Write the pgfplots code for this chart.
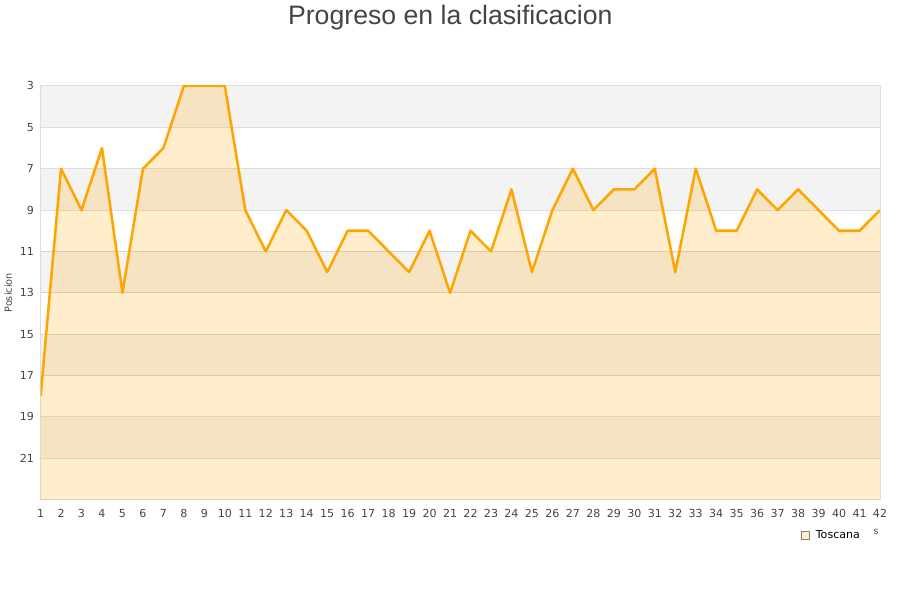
\documentclass[border=0pt]{standalone}
\usepackage{pgfplots}
\pgfplotsset{compat=1.18}
\usepackage{fontspec}
\setmainfont{DejaVu Sans}
\newfontfamily\titlefont{Liberation Sans}
\definecolor{lineorange}{RGB}{255,165,0}
\definecolor{gridgray}{RGB}{221,221,221}
\definecolor{ticktext}{RGB}{68,68,68}
\definecolor{legfill}{RGB}{255,237,204}
\begin{document}
\begin{tikzpicture}
\path (0pt,0pt) rectangle (675pt,450pt);
\node[font=\titlefont\fontsize{20}{24}\selectfont, text=ticktext] at (337.5pt,437pt) {Progreso en la clasificacion};
\node[font=\fontsize{7}{8}\selectfont, text=ticktext] at (657pt,51pt) {s};
\begin{axis}[
    at={(30pt,75pt)}, anchor=south west,
    scale only axis,
    width=630pt, height=310.5pt,
    xmin=1, xmax=42,
    ymin=3, ymax=23,
    y dir=reverse,
    xtick={1,...,42},
    ytick={3,5,...,21},
    tick style={draw=none},
    ymajorgrids,
    grid style={gridgray, line width=0.75pt},
    axis line style={gridgray, line width=0.75pt},
    ticklabel style={font=\fontsize{8.3}{10}\selectfont, text=ticktext},
    /pgf/number format/assume math mode=true,
    xticklabel style={yshift=-3.5pt},
    yticklabel style={xshift=-1.5pt},
    ylabel={Posicion},
    ylabel style={font=\fontsize{7.3}{8}\selectfont, text=ticktext, yshift=-1pt},
    legend style={at={(0.905,-0.087)}, anchor=west, draw=none, fill=none,
        font=\fontsize{8.3}{10}\selectfont, inner sep=0pt,
        nodes={inner xsep=5pt}},
    legend cell align=left,
]
\addplot[draw=none, fill=black, fill opacity=0.047, forget plot] coordinates {(1,3) (42,3) (42,5) (1,5)};
\addplot[draw=none, fill=black, fill opacity=0.047, forget plot] coordinates {(1,7) (42,7) (42,9) (1,9)};
\addplot[draw=none, fill=black, fill opacity=0.047, forget plot] coordinates {(1,11) (42,11) (42,13) (1,13)};
\addplot[draw=none, fill=black, fill opacity=0.047, forget plot] coordinates {(1,15) (42,15) (42,17) (1,17)};
\addplot[draw=none, fill=black, fill opacity=0.047, forget plot] coordinates {(1,19) (42,19) (42,21) (1,21)};
\addplot[draw=none, fill=lineorange, fill opacity=0.2, forget plot]
coordinates {
(1,18) (2,7) (3,9) (4,6) (5,13) (6,7) (7,6) (8,3) (9,3) (10,3)
(11,9) (12,11) (13,9) (14,10) (15,12) (16,10) (17,10) (18,11) (19,12) (20,10)
(21,13) (22,10) (23,11) (24,8) (25,12) (26,9) (27,7) (28,9) (29,8) (30,8)
(31,7) (32,12) (33,7) (34,10) (35,10) (36,8) (37,9) (38,8) (39,9) (40,10)
(41,10) (42,9) (42,23) (1,23)
};
\addplot[draw=lineorange, line width=1.9pt, line join=round,
    legend image code/.code={\draw[draw=gray, line width=0.5pt, fill=legfill] (0pt,-3pt) rectangle (6pt,3pt);}]
coordinates {
(1,18) (2,7) (3,9) (4,6) (5,13) (6,7) (7,6) (8,3) (9,3) (10,3)
(11,9) (12,11) (13,9) (14,10) (15,12) (16,10) (17,10) (18,11) (19,12) (20,10)
(21,13) (22,10) (23,11) (24,8) (25,12) (26,9) (27,7) (28,9) (29,8) (30,8)
(31,7) (32,12) (33,7) (34,10) (35,10) (36,8) (37,9) (38,8) (39,9) (40,10)
(41,10) (42,9)
};
\addlegendentry{Toscana}
\end{axis}
\end{tikzpicture}
\end{document}
